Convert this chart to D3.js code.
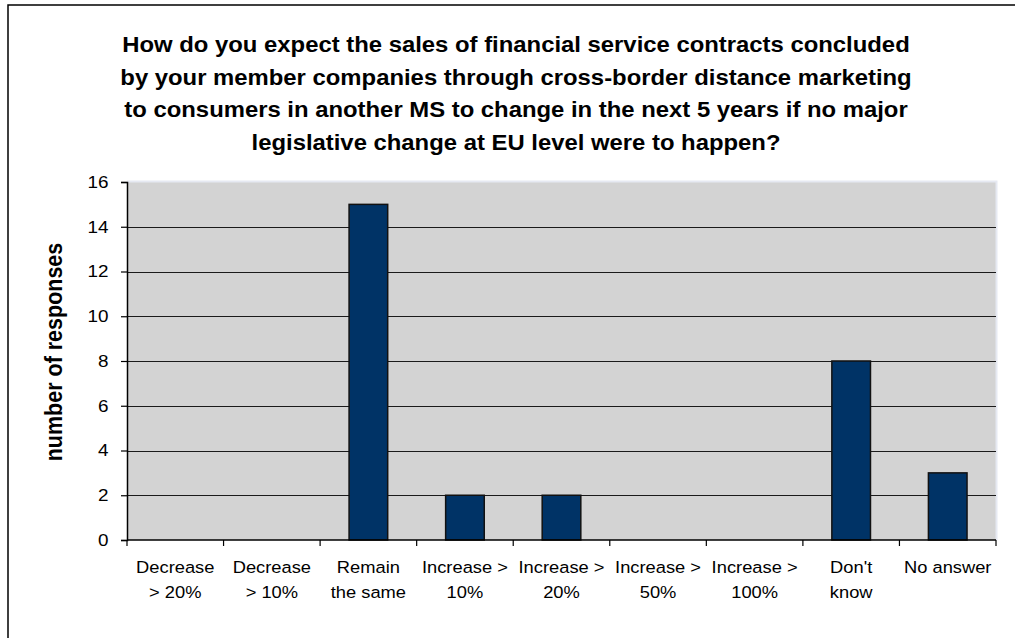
<!DOCTYPE html>
<html>
<head>
<meta charset="utf-8">
<script src="https://cdn.jsdelivr.net/npm/d3@7/dist/d3.min.js"></script>
<style>
  html, body { margin: 0; padding: 0; background: #fff; }
  svg { display: block; font-family: Arial, "Liberation Sans", sans-serif; }
</style>
</head>
<body>
<svg id="chart" width="1015" height="638"></svg>
<script>
// Survey answers and counts
const categories = [
  "Decrease\n> 20%", "Decrease\n> 10%", "Remain\nthe same",
  "Increase >\n10%", "Increase >\n20%", "Increase >\n50%",
  "Increase >\n100%", "Don't\nknow", "No answer"
];
const responses = [0, 0, 15, 2, 2, 0, 0, 8, 3];
const yTicks = [0, 2, 4, 6, 8, 10, 12, 14, 16];
const titleLines = [
  "How do you expect the sales of financial service contracts concluded",
  "by your member companies through cross-border distance marketing",
  "to consumers in another MS to change in the next 5 years if no major",
  "legislative change at EU level were to happen?"
];
const yLabel = "number of responses";

const svg = d3.select("#chart");
const W = 1015, H = 638;
const plot = { left: 127, right: 996, top: 182, bottom: 540 };
const stretch = 1.11;   // text is drawn slightly wide

// outer frame (only top and left edges fall inside the page)
svg.append("rect")
  .attr("x", 8).attr("y", 5)
  .attr("width", W + 20).attr("height", H + 20)
  .attr("fill", "#fff").attr("stroke", "#000").attr("stroke-width", 1.5);

// title
const title = svg.append("text")
  .attr("transform", `translate(516,0) scale(${stretch},1)`)
  .attr("text-anchor", "middle")
  .attr("font-weight", "bold")
  .attr("font-size", 21.5)
  .attr("fill", "#000");
titleLines.forEach((line, i) => {
  title.append("tspan")
    .attr("x", 0)
    .attr("y", 52 + i * 32.7)
    .text(line);
});

const x = d3.scaleBand()
  .domain(d3.range(categories.length))
  .range([plot.left, plot.right])
  .paddingInner(0).paddingOuter(0);

const y = d3.scaleLinear()
  .domain([0, 16])
  .range([plot.bottom, plot.top]);

// plot area background
svg.append("rect")
  .attr("x", plot.left).attr("y", plot.top)
  .attr("width", plot.right - plot.left)
  .attr("height", plot.bottom - plot.top)
  .attr("fill", "#d3d3d3");

// faint highlight on top and right edges of plot area
svg.append("path")
  .attr("d", `M${plot.left},${plot.top - 0.5}H${plot.right + 0.5}V${plot.bottom}`)
  .attr("fill", "none")
  .attr("stroke", "#e6e9f2")
  .attr("stroke-width", 2);

// gridlines
svg.append("g")
  .selectAll("line")
  .data(yTicks.filter(t => t > 0 && t < 16))
  .join("line")
  .attr("x1", plot.left).attr("x2", plot.right)
  .attr("y1", d => Math.round(y(d)) + 0.5)
  .attr("y2", d => Math.round(y(d)) + 0.5)
  .attr("stroke", "#1a1a1a")
  .attr("stroke-width", 1);

// bars
const barW = x.bandwidth() / 2.5;
const data = categories.map((c, i) => ({ i, v: responses[i] }));
svg.append("g")
  .selectAll("rect")
  .data(data.filter(d => d.v > 0))
  .join("rect")
  .attr("x", d => x(d.i) + (x.bandwidth() - barW) / 2)
  .attr("y", d => y(d.v))
  .attr("width", barW)
  .attr("height", d => y(0) - y(d.v))
  .attr("fill", "#003366")
  .attr("stroke", "#111")
  .attr("stroke-width", 1.5);

// y axis
const yAxis = d3.axisLeft(y).tickValues(yTicks).tickSize(6).tickPadding(0);
const yG = svg.append("g")
  .attr("transform", `translate(${plot.left},0)`)
  .call(yAxis);
yG.select(".domain").attr("stroke", "#000").attr("stroke-width", 1.5);
yG.selectAll(".tick line").attr("stroke", "#000").attr("stroke-width", 1.2);
yG.selectAll(".tick text")
  .attr("x", 0)
  .attr("transform", `translate(-18.5,0) scale(${stretch},1)`)
  .attr("font-size", 17)
  .attr("font-family", "Arial, 'Liberation Sans', sans-serif")
  .attr("fill", "#000");

// x axis with ticks at category boundaries
const xG = svg.append("g").attr("transform", `translate(0,${plot.bottom})`);
xG.append("line")
  .attr("x1", plot.left).attr("x2", plot.right)
  .attr("y1", 0).attr("y2", 0)
  .attr("stroke", "#000").attr("stroke-width", 1.5);
const bounds = d3.range(categories.length + 1).map(i =>
  i < categories.length ? x(i) : plot.right);
xG.selectAll("line.tk")
  .data(bounds)
  .join("line")
  .attr("class", "tk")
  .attr("x1", d => d).attr("x2", d => d)
  .attr("y1", 0).attr("y2", 6)
  .attr("stroke", "#000").attr("stroke-width", 1.2);

xG.selectAll("text.cat")
  .data(categories)
  .join("text")
  .attr("class", "cat")
  .attr("transform", (d, i) =>
    `translate(${x(i) + x.bandwidth() / 2},0) scale(${stretch},1)`)
  .attr("text-anchor", "middle")
  .attr("font-size", 16.5)
  .attr("fill", "#000")
  .each(function (d) {
    const t = d3.select(this);
    d.split("\n").forEach((ln, j) => {
      t.append("tspan")
        .attr("x", 0)
        .attr("y", 33 + j * 25)
        .text(ln);
    });
  });

// y axis title
svg.append("text")
  .attr("transform", `translate(62,352) rotate(-90) scale(1,${stretch})`)
  .attr("text-anchor", "middle")
  .attr("font-size", 21.5)
  .attr("font-weight", "bold")
  .attr("fill", "#000")
  .text(yLabel);
</script>
</body>
</html>
